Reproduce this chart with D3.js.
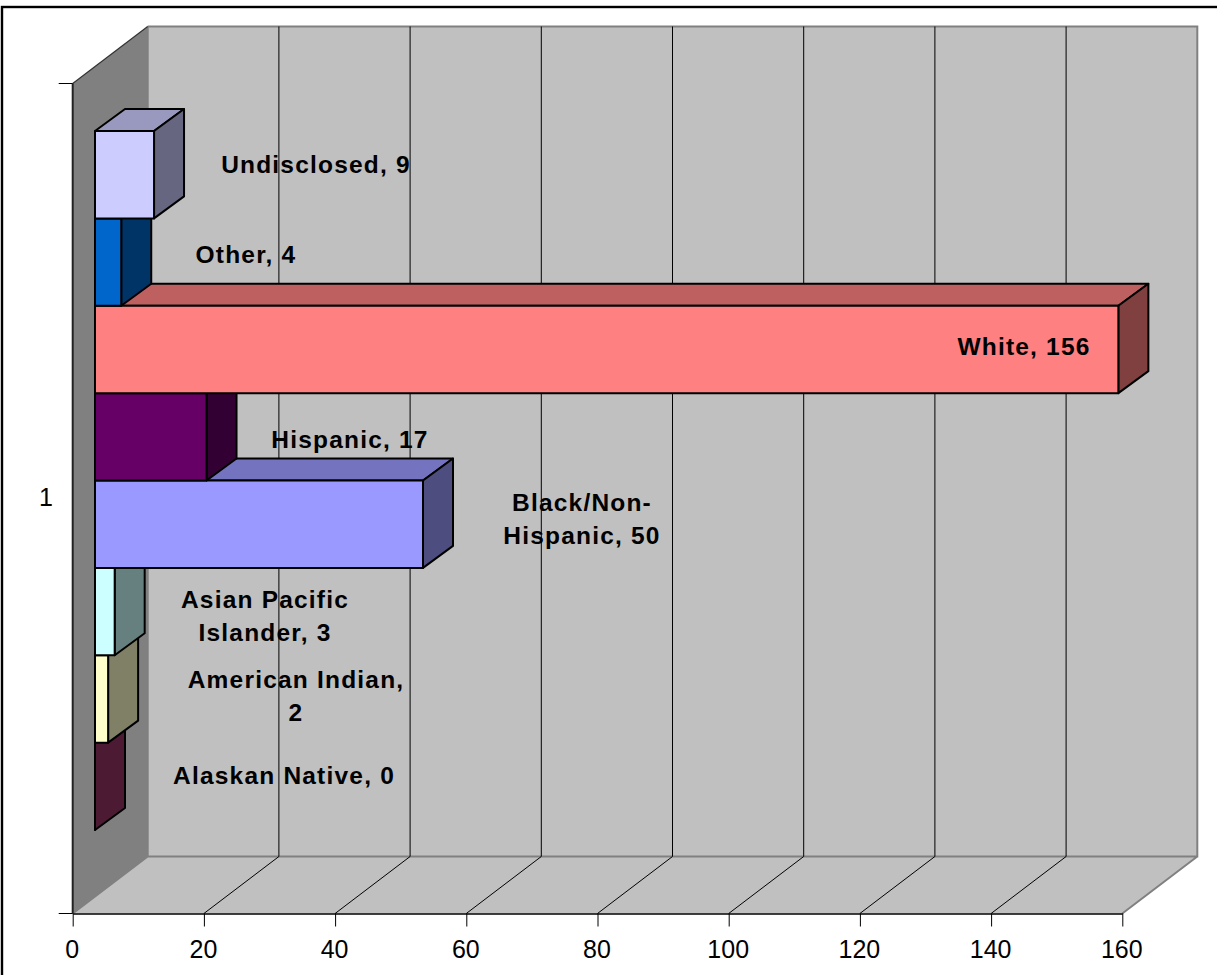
<!DOCTYPE html>
<html>
<head>
<meta charset="utf-8">
<style>
html,body{margin:0;padding:0;background:#fff;overflow:hidden}
svg{display:block}
text{font-family:"Liberation Sans",Arial,sans-serif;fill:#000}
.tick-label{font-size:25px}
.data-label{font-size:24.5px;font-weight:bold;letter-spacing:1.2px}
</style>
<script src="https://cdnjs.cloudflare.com/ajax/libs/d3/7.9.0/d3.min.js"></script>
</head>
<body>
<script>
// Respondents by race/ethnicity, top of the stack first
const categories = ["Undisclosed","Other","White","Hispanic","Black/Non-Hispanic","Asian Pacific Islander","American Indian","Alaskan Native"];
const values = [9,4,156,17,50,3,2,0];
const frontColors = ["#CCCCFF","#0066CC","#FF8080","#660066","#9999FF","#CCFFFF","#FFFFCC","#993366"];
const xTicks = [0,20,40,60,80,100,120,140,160];
const seriesLabel = ["1"];

// Wrapped data label text, one entry per category
const labelLines = [
  ["Undisclosed, 9"],["Other, 4"],["White, 156"],["Hispanic, 17"],
  ["Black/Non-","Hispanic, 50"],["Asian Pacific","Islander, 3"],["American Indian,","2"],["Alaskan Native, 0"]
];
const labelCenters = [[316,165],[246,255],[1024,347],[350,440],[582,519],[265,616],[296,696],[284,776]];

const W = 1217, H = 975;
const svg = d3.select("body").append("svg").attr("width",W).attr("height",H);

// Frame round the chart area; its right and bottom sides run past the page
svg.append("rect").attr("x",2).attr("y",7).attr("width",W+20).attr("height",H+20)
  .attr("fill","#fff").attr("stroke","#000").attr("stroke-width",2.4);

// Oblique projection: the plot box and the bars use their own depth offsets
const x = d3.scaleLinear().domain([0,160]).range([72.7,1122.3]);
const plotTop = 83.5, plotBottom = 913.5;
const boxDepth = {dx:75, dy:-57};
const barStart = 22.3;
const barDepth = {dx:30, dy:-22};
const y = d3.scaleBand().domain(categories).range([131,830]);

const poly = (pts, fill, stroke, sw) => svg.append("polygon")
  .attr("points", pts.map(p=>p.join(",")).join(" "))
  .attr("fill",fill).attr("stroke",stroke||"none").attr("stroke-width",sw||0)
  .attr("stroke-linejoin","round");

const x0 = x(0), x1 = x(160), dx = boxDepth.dx, dy = boxDepth.dy;

// Left wall, back wall, floor
poly([[x0,plotTop],[x0+dx,plotTop+dy],[x0+dx,plotBottom+dy],[x0,plotBottom]],"#808080");
poly([[x0+dx,plotTop+dy],[x1+dx,plotTop+dy],[x1+dx,plotBottom+dy],[x0+dx,plotBottom+dy]],"#C0C0C0");
poly([[x0,plotBottom],[x0+dx,plotBottom+dy],[x1+dx,plotBottom+dy],[x1,plotBottom]],"#C0C0C0");

// Wall edges
const edge = "#808080";
svg.append("path").attr("fill","none").attr("stroke",edge).attr("stroke-width",2)
  .attr("d",`M${x0+dx},${plotTop+dy}H${x1+dx}V${plotBottom+dy}H${x0+dx}V${plotTop+dy}M${x0},${plotBottom}L${x0+dx},${plotBottom+dy}M${x1},${plotBottom}L${x1+dx},${plotBottom+dy}`);
svg.append("path").attr("fill","none").attr("stroke","#333").attr("stroke-width",1.2)
  .attr("d",`M${x0},${plotTop}L${x0+dx},${plotTop+dy}`);

// Gridlines on the back wall and floor
xTicks.slice(1,-1).forEach(t=>{
  svg.append("path").attr("fill","none").attr("stroke","#000").attr("stroke-width",1)
    .attr("d",`M${x(t)},${plotBottom}L${x(t)+dx},${plotBottom+dy}V${plotTop+dy}`);
});

// Axes along the front edges
const axisG = svg.append("g").attr("transform",`translate(0,${plotBottom})`)
  .call(d3.axisBottom(x).tickValues(xTicks).tickSize(13).tickPadding(14).tickSizeOuter(0));
axisG.attr("font-size",null).attr("font-family",null);
axisG.select(".domain").attr("stroke","#000").attr("stroke-width",1.5);
axisG.selectAll("line").attr("stroke","#000").attr("stroke-width",1);
axisG.selectAll("text").attr("class","tick-label").attr("dx","-1");

const yAxisScale = d3.scalePoint().domain(["top","bottom"]).range([plotTop,plotBottom]);
svg.append("path").attr("fill","none").attr("stroke","#222").attr("stroke-width",2)
  .attr("d",`M${x0},${plotTop}V${plotBottom}`);
yAxisScale.domain().forEach(k=>{
  svg.append("line").attr("x1",x0-14).attr("x2",x0).attr("y1",yAxisScale(k)).attr("y2",yAxisScale(k))
    .attr("stroke","#000").attr("stroke-width",1);
});
svg.append("text").attr("class","tick-label").attr("x",46).attr("y",(plotTop+plotBottom)/2-1)
  .attr("dy","0.35em").attr("text-anchor","middle").text(seriesLabel[0]);

// Shade a face colour towards black
const shade = (c,k) => { const r=d3.rgb(c); return d3.rgb(r.r*k,r.g*k,r.b*k).formatHex(); };

// Bars are painted bottom row first so each one overlaps the row beneath
const barLeft = x0 + barStart;
const barW = v => x(v) - x(0);
d3.range(categories.length).reverse().forEach(i=>{
  const top = y(categories[i]), bot = top + y.bandwidth();
  const r = barLeft + barW(values[i]);
  const ddx = barDepth.dx, ddy = barDepth.dy;
  const s = "#000", w = 2;
  poly([[barLeft,top],[barLeft+ddx,top+ddy],[r+ddx,top+ddy],[r,top]],shade(frontColors[i],0.75),s,w);
  poly([[r,top],[r+ddx,top+ddy],[r+ddx,bot+ddy],[r,bot]],shade(frontColors[i],0.5),s,w);
  poly([[barLeft,top],[r,top],[r,bot],[barLeft,bot]],frontColors[i],s,w);
});

// Data labels sit above everything else
labelLines.forEach((lines,i)=>{
  const [cx,cy] = labelCenters[i];
  const t = svg.append("text").attr("class","data-label").attr("text-anchor","middle");
  lines.forEach((ln,j)=>{
    t.append("tspan").attr("x",cx).attr("y",cy+8+(j-(lines.length-1)/2)*33).text(ln);
  });
});
</script>
</body>
</html>
